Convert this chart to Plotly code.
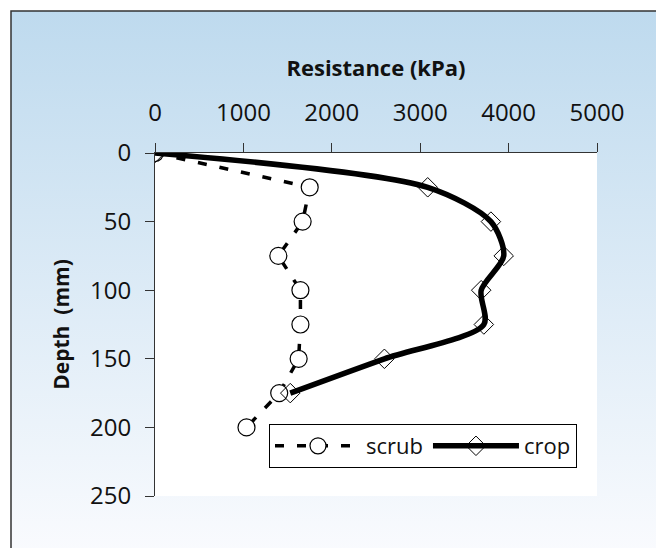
import base64
import plotly.graph_objects as go

# ---- data ----
depth = [0, 25, 50, 75, 100, 125, 150, 175, 200]
scrub = [0, 1750, 1670, 1395, 1645, 1645, 1625, 1405, 1035]
crop_depth = [0, 25, 50, 75, 100, 125, 150, 175]
crop = [0, 3085, 3800, 3945, 3690, 3720, 2595, 1530]
x_ticks = [0, 1000, 2000, 3000, 4000, 5000]
y_ticks = [0, 50, 100, 150, 200, 250]

# page body has an 8px margin: shift the figure so the plot lands where the reference has it
OFF = 8
W, H = 664, 548
L, R, T, B = 155 - OFF, 67 + OFF, 153 - OFF, 52 + OFF
pw, ph = W - L - R, H - T - B


def px2paper_x(sx):
    return (sx - 155) / pw


def px2paper_y(sy):
    return (496 - sy) / ph


FONT = "Open Sans"

fig = go.Figure()
fig.add_trace(go.Scatter(
    x=scrub, y=depth, name="scrub", mode="lines+markers",
    line=dict(color="black", width=3.5, dash="9px,13px"),
    marker=dict(symbol="circle", size=17, color="white",
                line=dict(color="black", width=1.2)),
))
fig.add_trace(go.Scatter(
    x=crop, y=crop_depth, name="crop", mode="lines+markers",
    line=dict(color="black", width=5.5, shape="spline", smoothing=0.8),
    marker=dict(symbol="diamond-open", size=15, color="black",
                line=dict(color="black", width=1)),
))

svg = ('<svg xmlns="http://www.w3.org/2000/svg" width="660" height="540" preserveAspectRatio="none">'
       '<defs><linearGradient id="g" x1="0" y1="0" x2="0" y2="1">'
       '<stop offset="0" stop-color="#bedaee"/><stop offset="1" stop-color="#fafbfe"/>'
       '</linearGradient></defs><rect width="100%" height="100%" fill="url(#g)"/></svg>')
src = "data:image/svg+xml;base64," + base64.b64encode(svg.encode()).decode()

fx0, fy0 = 11, 11
fig.add_layout_image(dict(
    source=src, xref="paper", yref="paper",
    x=px2paper_x(fx0), y=px2paper_y(fy0),
    sizex=(W + 10 - fx0) / pw, sizey=(H + 10 - fy0) / ph,
    xanchor="left", yanchor="top", sizing="stretch", layer="below",
))
fig.add_shape(type="rect", xref="paper", yref="paper",
              x0=px2paper_x(fx0), y0=px2paper_y(fy0),
              x1=px2paper_x(W + 10), y1=px2paper_y(H + 10),
              line=dict(color="#333333", width=1.5), layer="below")
fig.add_shape(type="rect", xref="x domain", yref="y domain",
              x0=0, x1=1, y0=0, y1=1, fillcolor="white",
              line=dict(width=0), layer="below")

fig.update_layout(
    width=W, height=H,
    margin=dict(l=L, r=R, t=T, b=B),
    paper_bgcolor="white", plot_bgcolor="white",
    font=dict(family=FONT, color="#111111", size=22),
    showlegend=True,
    legend=dict(
        orientation="h", x=px2paper_x(269), y=px2paper_y(424),
        xanchor="left", yanchor="top",
        bgcolor="white", bordercolor="black", borderwidth=1,
        font=dict(size=22, family=FONT), itemwidth=86,
        traceorder="normal",
    ),
    xaxis=dict(
        side="top", range=[0, 5000], tickvals=x_ticks,
        ticks="outside", ticklen=9, tickcolor="#333", showline=True,
        linecolor="#333", linewidth=1, showgrid=False, zeroline=False,
        tickfont=dict(size=24), ticklabelstandoff=12,
        title=dict(text="<b>Resistance (kPa)</b>", font=dict(size=22), standoff=12),
    ),
    yaxis=dict(
        range=[250, 0], tickvals=y_ticks,
        ticks="outside", ticklen=9, tickcolor="#333", showline=True,
        linecolor="#333", linewidth=1, showgrid=False, zeroline=False,
        tickfont=dict(size=24), ticklabelstandoff=9,
        title=dict(text="<b>Depth  (mm)</b>", font=dict(size=21), standoff=14),
    ),
)

fig.write_html("out.html")
